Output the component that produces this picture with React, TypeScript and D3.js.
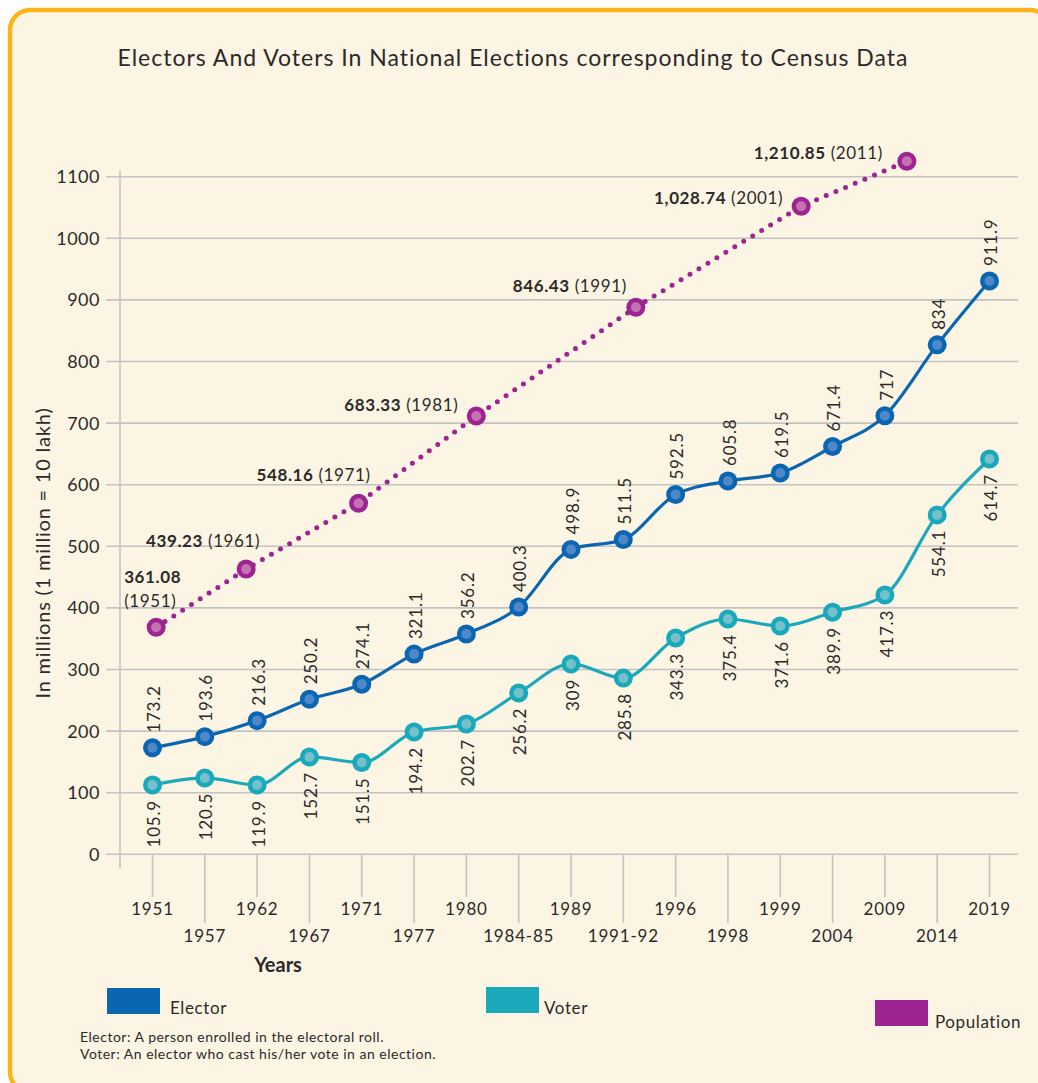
import React, { useEffect, useRef } from 'react';
import * as d3 from 'd3';

// election years (x categories)
const years = [
  '1951', '1957', '1962', '1967', '1971', '1977', '1980', '1984-85', '1989',
  '1991-92', '1996', '1998', '1999', '2004', '2009', '2014', '2019'
];

// plotted positions (millions)
const electorValues = [173, 191, 217, 251.6, 276, 325, 357.6, 401.5, 495, 511, 584, 606, 619, 662, 712, 827, 930.7];
const electorLabels = ['173.2', '193.6', '216.3', '250.2', '274.1', '321.1', '356.2', '400.3', '498.9', '511.5', '592.5', '605.8', '619.5', '671.4', '717', '834', '911.9'];

const voterValues = [112.5, 124, 112.5, 158, 149, 198.5, 211.5, 262, 309, 286, 351, 382, 370.6, 393, 421, 551, 641.7];
const voterLabels = ['105.9', '120.5', '119.9', '152.7', '151.5', '194.2', '202.7', '256.2', '309', '285.8', '343.3', '375.4', '371.6', '389.9', '417.3', '554.1', '614.7'];

// census population: position along the year axis (category index) and value
const censusYears = ['1951', '1961', '1971', '1981', '1991', '2001', '2011'];
const censusPos = [0.07, 1.79, 3.94, 6.19, 9.24, 12.4, 14.42];
const populationValues = [368.5, 463, 570, 711.5, 888, 1052, 1125];
const populationLabels = ['361.08', '439.23', '548.16', '683.33', '846.43', '1,028.74', '1,210.85'];

const yTicks = [0, 100, 200, 300, 400, 500, 600, 700, 800, 900, 1000, 1100];

// label placement around each census marker
const popLabelOffset: [number, number][] = [
  [-32, -44], [14, -22], [12, -22], [-18, -5], [-9, -15], [-18, -2], [-24, -2]
];

const FONT = 'Lato, "Noto Sans", sans-serif';
const INK = '#2b2a29';
const ELECTOR = '#0b66b2';
const ELECTOR_IN = '#4f88c8';
const VOTER = '#1aa9ba';
const VOTER_IN = '#74c1cb';
const POP = '#9d2491';
const POP_IN = '#c274b2';
const GRID = '#c3c3c3';

const App: React.FC = () => {
  const svgRef = useRef<SVGSVGElement | null>(null);

  useEffect(() => {
    document.body.style.margin = '0';
    if (!svgRef.current) return;
    const width = 1038;
    const height = 1083;

    const svg = d3.select(svgRef.current)
      .attr('width', width)
      .attr('height', height)
      .style('display', 'block');
    svg.selectAll('*').remove();

    // card background
    svg.append('rect').attr('width', width).attr('height', height).attr('fill', '#ffffff');
    svg.append('rect')
      .attr('x', 10).attr('y', 10)
      .attr('width', 1040).attr('height', 1082)
      .attr('rx', 20)
      .attr('fill', '#fdf5e4')
      .attr('stroke', '#fcb417')
      .attr('stroke-width', 4.5);

    svg.append('text')
      .attr('x', 513).attr('y', 66)
      .attr('text-anchor', 'middle')
      .style('font-family', FONT)
      .style('font-size', '23px')
      .style('letter-spacing', '1px')
      .style('fill', INK)
      .text('Electors And Voters In National Elections corresponding to Census Data');

    const x = d3.scalePoint<string>().domain(years).range([152.5, 989.5]);
    const xIdx = d3.scaleLinear().domain([0, years.length - 1]).range([152.5, 989.5]);
    const y = d3.scaleLinear().domain([0, 1100]).range([854.3, 176.7]);

    // horizontal grid
    const grid = svg.append('g');
    grid.selectAll('line')
      .data(yTicks)
      .enter()
      .append('line')
      .attr('x1', 106).attr('x2', 1018)
      .attr('y1', d => y(d)).attr('y2', d => y(d))
      .attr('stroke', GRID)
      .attr('stroke-width', 1.6);

    // y axis line
    svg.append('line')
      .attr('x1', 120).attr('x2', 120)
      .attr('y1', y(1100) - 6).attr('y2', 868)
      .attr('stroke', GRID)
      .attr('stroke-width', 1.6);

    // y tick labels
    svg.append('g').selectAll('text')
      .data(yTicks)
      .enter()
      .append('text')
      .attr('x', 100)
      .attr('y', d => y(d))
      .attr('dy', '0.36em')
      .attr('text-anchor', 'end')
      .style('font-family', FONT)
      .style('font-size', '18px')
      .style('letter-spacing', '0.5px')
      .style('fill', INK)
      .text(d => String(d));

    svg.append('text')
      .attr('transform', 'translate(50,553) rotate(-90)')
      .attr('text-anchor', 'middle')
      .style('font-family', FONT)
      .style('font-size', '20px')
      .style('letter-spacing', '0.8px')
      .style('fill', INK)
      .text('In millions (1 million = 10 lakh)');

    // x ticks, staggered
    const xt = svg.append('g').selectAll('g')
      .data(years)
      .enter()
      .append('g')
      .attr('transform', d => `translate(${x(d)},0)`);
    xt.append('line')
      .attr('y1', y(0))
      .attr('y2', (_d, i) => (i % 2 === 0 ? 897 : 923))
      .attr('stroke', GRID)
      .attr('stroke-width', 1.6);
    xt.append('text')
      .attr('y', (_d, i) => (i % 2 === 0 ? 915 : 942))
      .attr('text-anchor', 'middle')
      .style('font-family', FONT)
      .style('font-size', '17px')
      .style('letter-spacing', '0.8px')
      .style('fill', INK)
      .text(d => d);

    svg.append('text')
      .attr('x', 278).attr('y', 972)
      .attr('text-anchor', 'middle')
      .style('font-family', FONT)
      .style('font-size', '20px')
      .style('font-weight', 700)
      .style('fill', INK)
      .text('Years');

    // population dotted line
    const popPts = censusPos.map((p, i) => [xIdx(p), y(populationValues[i])] as [number, number]);
    svg.append('path')
      .attr('d', d3.line()(popPts) || '')
      .attr('fill', 'none')
      .attr('stroke', POP)
      .attr('stroke-width', 5)
      .attr('stroke-linecap', 'round')
      .attr('stroke-dasharray', '0 10.5');

    const seriesLine = d3.line<number>()
      .x((_d, i) => x(years[i]) ?? 0)
      .y(d => y(d))
      .curve(d3.curveMonotoneX);

    const drawSeries = (vals: number[], color: string, inner: string) => {
      svg.append('path')
        .attr('d', seriesLine(vals) || '')
        .attr('fill', 'none')
        .attr('stroke', color)
        .attr('stroke-width', 3.2);
      const g = svg.append('g');
      g.selectAll('circle.o')
        .data(vals)
        .enter()
        .append('circle')
        .attr('class', 'o')
        .attr('cx', (_d, i) => x(years[i]) ?? 0)
        .attr('cy', d => y(d))
        .attr('r', 9.5)
        .attr('fill', color);
      g.selectAll('circle.i')
        .data(vals)
        .enter()
        .append('circle')
        .attr('class', 'i')
        .attr('cx', (_d, i) => x(years[i]) ?? 0)
        .attr('cy', d => y(d))
        .attr('r', 5)
        .attr('fill', inner);
    };

    drawSeries(voterValues, VOTER, VOTER_IN);
    drawSeries(electorValues, ELECTOR, ELECTOR_IN);

    // population markers
    const pm = svg.append('g');
    pm.selectAll('circle.o')
      .data(popPts)
      .enter()
      .append('circle')
      .attr('class', 'o')
      .attr('cx', d => d[0]).attr('cy', d => d[1])
      .attr('r', 9.5)
      .attr('fill', POP);
    pm.selectAll('circle.i')
      .data(popPts)
      .enter()
      .append('circle')
      .attr('class', 'i')
      .attr('cx', d => d[0]).attr('cy', d => d[1])
      .attr('r', 5)
      .attr('fill', POP_IN);

    // rotated value labels
    const rotLabel = (vals: number[], labels: string[], above: boolean) => {
      svg.append('g').selectAll('text')
        .data(vals)
        .enter()
        .append('text')
        .attr('transform', (d, i) => {
          const px = (x(years[i]) ?? 0) + 1.5;
          const py = y(d) + (above ? -15 : 15);
          return `translate(${px},${py}) rotate(-90)`;
        })
        .attr('dy', '0.36em')
        .attr('text-anchor', above ? 'start' : 'end')
        .style('font-family', FONT)
        .style('font-size', '17px')
        .style('letter-spacing', '0.8px')
        .style('fill', INK)
        .text((_d, i) => labels[i]);
    };
    rotLabel(electorValues, electorLabels, true);
    rotLabel(voterValues, voterLabels, false);

    // population labels
    popPts.forEach((pt, i) => {
      const [dx, dy] = popLabelOffset[i];
      const t = svg.append('text')
        .attr('x', pt[0] + dx)
        .attr('y', pt[1] + dy)
        .attr('text-anchor', i === 0 ? 'start' : 'end')
        .style('font-family', FONT)
        .style('font-size', '17px')
        .style('letter-spacing', '0.6px')
        .style('fill', INK);
      t.append('tspan').style('font-weight', 700).text(populationLabels[i]);
      if (i === 0) {
        t.append('tspan')
          .attr('x', pt[0] + dx)
          .attr('dy', 24)
          .text(`(${censusYears[i]})`);
      } else {
        t.append('tspan').text(` (${censusYears[i]})`);
      }
    });

    // legend
    const legend = [
      { name: 'Elector', color: ELECTOR, x: 107, y: 988, tx: 170, ty: 1014 },
      { name: 'Voter', color: VOTER, x: 486, y: 987, tx: 544, ty: 1014 },
      { name: 'Population', color: POP, x: 875, y: 1000, tx: 935, ty: 1028 }
    ];
    const lg = svg.append('g').selectAll('g').data(legend).enter().append('g');
    lg.append('rect')
      .attr('x', d => d.x).attr('y', d => d.y)
      .attr('width', 53).attr('height', 26)
      .attr('fill', d => d.color);
    lg.append('text')
      .attr('x', d => d.tx).attr('y', d => d.ty)
      .style('font-family', FONT)
      .style('font-size', '17px')
      .style('letter-spacing', '0.6px')
      .style('fill', INK)
      .text(d => d.name);

    svg.append('text')
      .attr('x', 80).attr('y', 1042)
      .style('font-family', FONT)
      .style('font-size', '14px')
      .style('letter-spacing', '0.5px')
      .style('fill', INK)
      .text('Elector: A person enrolled in the electoral roll.');
    svg.append('text')
      .attr('x', 80).attr('y', 1059)
      .style('font-family', FONT)
      .style('font-size', '14px')
      .style('letter-spacing', '0.5px')
      .style('fill', INK)
      .text('Voter: An elector who cast his/her vote in an election.');
  }, []);

  return (
    <div>
      <svg ref={svgRef}></svg>
    </div>
  );
};

export default App;
